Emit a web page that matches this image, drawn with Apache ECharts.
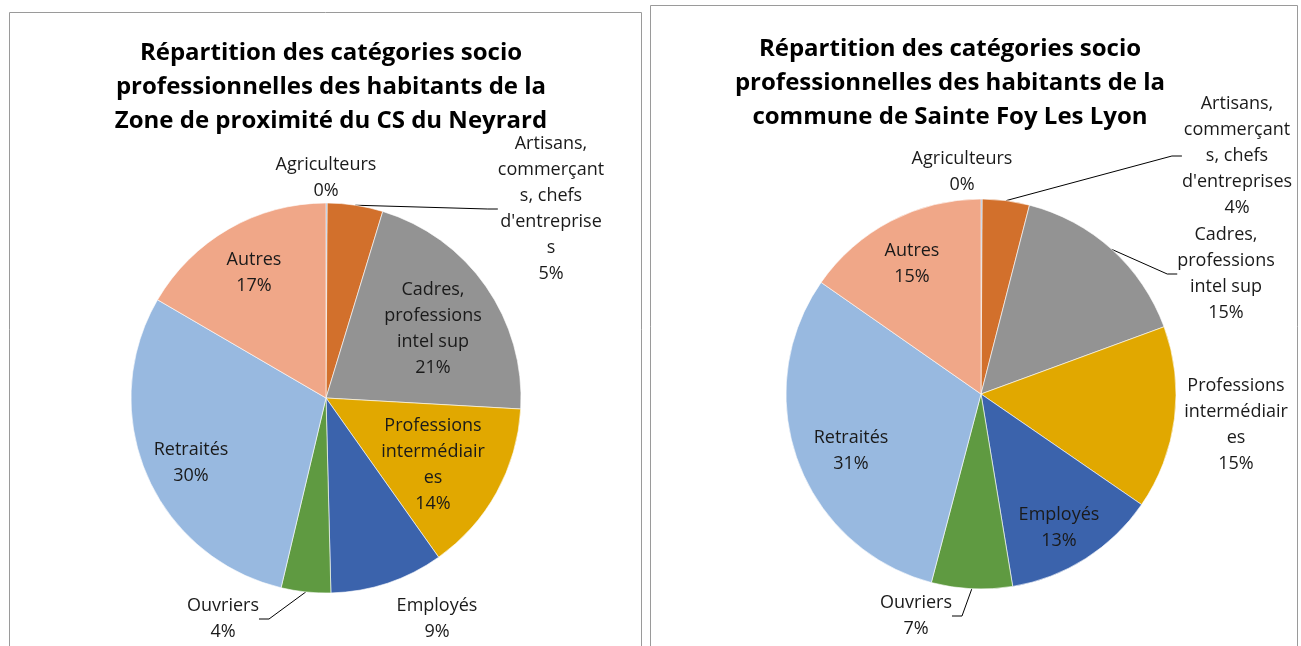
<!DOCTYPE html>
<html>
<head>
<meta charset="utf-8">
<script src="https://cdn.jsdelivr.net/npm/echarts@6/dist/echarts.min.js"></script>
<style>
  html, body { margin: 0; padding: 0; background: #fff; }
  #main { width: 1301px; height: 646px; }
</style>
</head>
<body>
<div id="main"></div>
<script>
// catégories (ordre des secteurs, sens horaire depuis le haut)
var categories = ['Agriculteurs', "Artisans, commerçants, chefs d'entreprises", 'Cadres, professions intel sup',
  'Professions intermédiaires', 'Employés', 'Ouvriers', 'Retraités', 'Autres'];

// parts en %
var neyrardValues = [0.1, 4.6, 21.2, 14.3, 9.4, 4.1, 29.7, 16.6];
var sainteFoyValues = [0.1, 3.9, 15.4, 15.2, 12.8, 6.7, 30.6, 15.3];

// libellés tels que coupés par Excel
var neyrardLabels = ['Agriculteurs', "Artisans,\ncommerçant\ns, chefs\nd'entreprise\ns", 'Cadres,\nprofessions\nintel sup',
  'Professions\nintermédiair\nes', 'Employés', 'Ouvriers', 'Retraités', 'Autres'];
var sainteFoyLabels = ['Agriculteurs', "Artisans,\ncommerçant\ns, chefs\nd'entreprises", 'Cadres,\nprofessions\nintel sup',
  'Professions\nintermédiair\nes', 'Employés', 'Ouvriers', 'Retraités', 'Autres'];

var titles = [
  'Répartition des catégories socio\nprofessionnelles des habitants de la\nZone de proximité du CS du Neyrard',
  'Répartition des catégories socio\nprofessionnelles des habitants de la\ncommune de Sainte Foy Les Lyon'
];

var colors = ['#4A7EBB', '#D2702C', '#939393', '#E1A800', '#3B63AC', '#5F9A41', '#98B9E0', '#F0A788'];

// placement des étiquettes (centre du bloc de texte)
var labelPosLeft = [[326, 178], [551, 209], [433, 329], [433, 465], [437, 619], [223, 619], [191, 463], [254, 273]];
var labelPosRight = [[962, 172], [1237, 156], [1226, 274], [1236, 425], [1059, 528], [916, 616], [851, 451], [912, 264]];
// étiquettes à l'intérieur / extérieur, avec ou sans trait
var insideLeft = [false, false, true, true, false, false, true, true];
var lineLeft = [false, true, false, false, false, true, false, false];
var insideRight = [false, false, false, false, true, false, true, true];
var lineRight = [false, true, true, false, false, true, false, false];

var FONT = '"Open Sans", "Noto Sans", sans-serif';

function buildData(values, labels, inside, line) {
  return values.map(function (v, i) {
    return {
      name: categories[i],
      value: v,
      itemStyle: { color: colors[i] },
      label: { position: inside[i] ? 'inside' : 'outside' },
      labelLine: { show: line[i] }
    };
  });
}

function makeSeries(values, labels, inside, line, center, pos) {
  return {
    type: 'pie',
    center: center,
    radius: 195,
    startAngle: 90,
    clockwise: true,
    avoidLabelOverlap: false,
    itemStyle: { borderColor: '#fff', borderWidth: 0.6 },
    label: {
      color: '#1a1a1a',
      fontFamily: FONT,
      fontSize: 18,
      lineHeight: 26,
      align: 'center',
      formatter: function (p) {
        return labels[p.dataIndex] + '\n' + Math.round(p.percent) + '%';
      }
    },
    labelLine: {
      length: 10,
      length2: 10,
      lineStyle: { color: '#000', width: 1 }
    },
    labelLayout: function (p) {
      var xy = pos[p.dataIndex];
      return { x: xy[0], y: xy[1], align: 'center', verticalAlign: 'middle' };
    },
    data: buildData(values, labels, inside, line)
  };
}

var myChart = echarts.init(document.getElementById('main'));

var titleStyle = { fontFamily: FONT, fontWeight: 'bold', fontSize: 24, lineHeight: 34, color: '#000' };

var option = {
  backgroundColor: '#fff',
  animation: false,
  title: [
    { text: titles[0], left: 326, top: 31, textAlign: 'center', textStyle: titleStyle },
    { text: titles[1], left: 945, top: 27, textAlign: 'center', textStyle: titleStyle }
  ],
  graphic: [
    { type: 'rect', z: -1, shape: { x: 9.5, y: 12.5, width: 632, height: 650 }, style: { fill: 'none', stroke: '#9a9a9a', lineWidth: 1 } },
    { type: 'rect', z: -1, shape: { x: 650.5, y: 5.5, width: 647, height: 660 }, style: { fill: 'none', stroke: '#9a9a9a', lineWidth: 1 } }
  ],
  series: [
    makeSeries(neyrardValues, neyrardLabels, insideLeft, lineLeft, [326, 398], labelPosLeft),
    makeSeries(sainteFoyValues, sainteFoyLabels, insideRight, lineRight, [981, 394], labelPosRight)
  ]
};

myChart.setOption(option);
</script>
</body>
</html>
